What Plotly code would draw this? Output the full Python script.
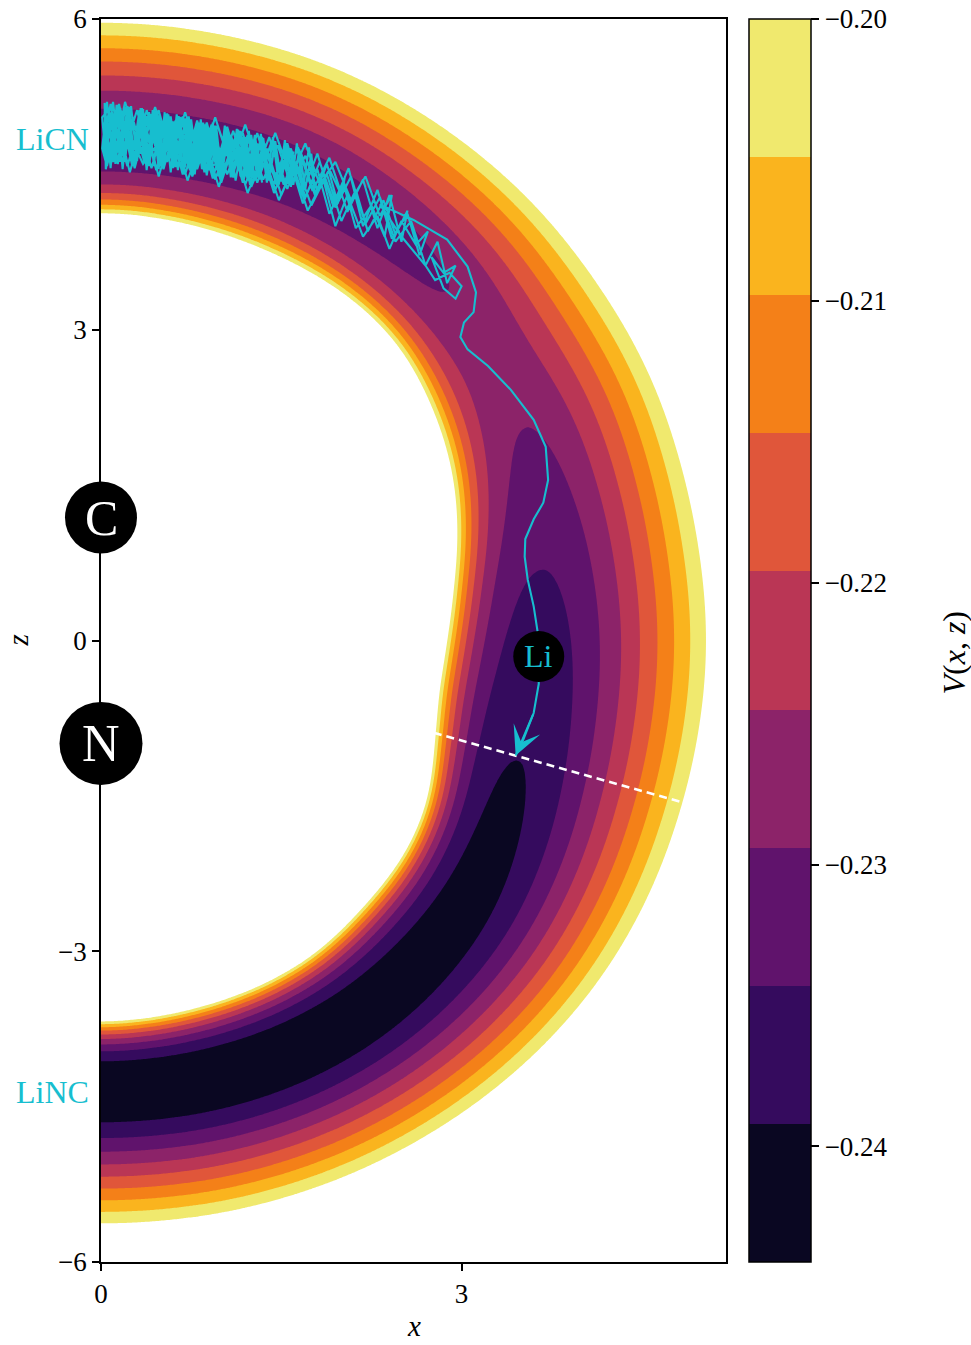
import numpy as np
import plotly.graph_objects as go

# ------------------------------------------------------------------
# Values
# ------------------------------------------------------------------
V_MIN = -0.2441          # lowest filled level (bottom of colour bar)
V_MAX = -0.20            # highest filled level (top of colour bar)
N_BANDS = 9
BAND_COLORS = ["#0a0722", "#350b5e", "#60136c", "#8c2369", "#ba3655",
               "#e0563a", "#f48018", "#fab41e", "#f0e96e"]
CB_TICKS = [-0.24, -0.23, -0.22, -0.21, -0.20]
CB_TICKTEXT = ["\u22120.24", "\u22120.23", "\u22120.22", "\u22120.21", "\u22120.20"]

X_TICKS = [0, 3]
X_TICKTEXT = ["0", "3"]
Z_TICKS = [-6, -3, 0, 3, 6]
Z_TICKTEXT = ["\u22126", "\u22123", "0", "3", "6"]

# potential landscape in Jacobi polar coordinates (angle from +z axis, degrees)
GAMMA_DEG = [0, 10, 20, 30, 40, 50, 60, 70, 80, 90,
             100, 110, 120, 130, 140, 150, 160, 170, 180]
R_OUTER = [5.975, 5.94, 5.86, 5.71, 5.55, 5.37, 5.24, 5.11, 5.04, 5.03,
           5.04, 5.09, 5.19, 5.30, 5.40, 5.49, 5.57, 5.62, 5.63]
R_INNER = [4.14, 4.09, 4.01, 3.93, 3.80, 3.57, 3.36, 3.15, 2.97, 2.87,
           2.84, 2.94, 3.13, 3.27, 3.37, 3.52, 3.60, 3.65, 3.69]
R_VALLEY = [4.84, 4.83, 4.80, 4.63, 4.46, 4.26, 4.08, 3.87, 3.71, 3.63,
            3.61, 3.66, 3.79, 3.96, 4.10, 4.22, 4.30, 4.34, 4.35]
V_VALLEY = [2.2, 2.25, 2.4, 2.65, 2.95, 3.45, 3.0, 2.5, 1.95, 1.55,
            1.25, 0.95, 0.7, 0.5, 0.35, 0.2, 0.1, 0.03, 0.0]   # in band units above V_MIN
OUTER_SOFT = [0.40, 0.42, 0.45, 0.50, 0.58, 0.64, 0.62, 0.57, 0.52, 0.50,
              0.48, 0.46, 0.43, 0.41, 0.39, 0.36, 0.34, 0.32, 0.30]
INNER_STIFF = [2.0, 2.1, 2.2, 2.3, 2.4, 2.6, 2.7, 2.8, 2.9, 3.0,
               2.9, 2.8, 2.7, 2.6, 2.4, 2.3, 2.2, 2.1, 2.0]

ATOM_NAMES = ["C", "N", "Li"]
ATOM_X = [0.0, 0.0, 3.642]
ATOM_Z = [1.187, -0.994, -0.154]
ATOM_SIZE = [72, 83, 51]
ATOM_TEXT_SIZE = [50, 52, 32]

DIVIDER_X = [2.769, 4.853]
DIVIDER_Z = [-0.891, -1.567]

LABEL_NAMES = ["LiCN", "LiNC"]
LABEL_Z = [4.846, -4.36]

TRAJ = [
    # pass 1
    (0.30, 4.80), (0.42, 5.08), (0.55, 4.62), (0.66, 5.05), (0.80, 4.55), (0.92, 4.98),
    (1.05, 4.50), (1.18, 4.90), (1.30, 4.42), (1.42, 4.82), (1.55, 4.36), (1.66, 4.72),
    (1.78, 4.30), (1.88, 4.60), (1.97, 4.22), (2.03, 4.48), (2.00, 4.30), (1.90, 4.55),
    (1.80, 4.35), (1.70, 4.68), (1.58, 4.40), (1.47, 4.78), (1.35, 4.45), (1.22, 4.88),
    (1.10, 4.52), (0.97, 4.97), (0.85, 4.55), (0.72, 5.05), (0.60, 4.60), (0.48, 5.12),
    (0.36, 4.62), (0.24, 5.15), (0.12, 4.66), (0.03, 5.10), (0.05, 4.60),
    # pass 2
    (0.15, 5.18), (0.26, 4.58), (0.38, 5.12), (0.50, 4.64), (0.62, 5.02), (0.75, 4.52),
    (0.88, 5.00), (1.00, 4.48), (1.14, 4.93), (1.27, 4.46), (1.40, 4.86), (1.52, 4.40),
    (1.64, 4.76), (1.76, 4.34), (1.90, 4.66), (2.05, 4.14), (2.18, 4.45), (2.30, 3.98),
    (2.40, 4.30), (2.50, 3.85), (2.55, 4.15), (2.45, 3.92), (2.35, 4.25), (2.22, 3.95),
    (2.12, 4.35), (2.00, 4.05), (1.88, 4.50), (1.75, 4.20), (1.62, 4.62), (1.50, 4.30),
    (1.38, 4.75), (1.25, 4.38), (1.12, 4.85), (1.00, 4.42), (0.88, 4.95), (0.76, 4.48),
    (0.64, 5.06), (0.52, 4.55), (0.40, 5.10), (0.28, 4.56), (0.16, 5.14), (0.05, 4.58),
    (0.02, 5.00),
    # pass 3
    (0.10, 4.62), (0.20, 5.20), (0.33, 4.70), (0.45, 5.15), (0.58, 4.66), (0.70, 5.10),
    (0.83, 4.62), (0.95, 5.05), (1.08, 4.58), (1.20, 4.98), (1.33, 4.52), (1.45, 4.90),
    (1.58, 4.48), (1.70, 4.80), (1.82, 4.40), (1.95, 4.62), (2.08, 4.25), (2.20, 4.48),
    (2.32, 4.10), (2.42, 4.30), (2.36, 3.90), (2.25, 4.20), (2.12, 3.98), (2.02, 4.40),
    (1.90, 4.12), (1.80, 4.55), (1.68, 4.22), (1.56, 4.68), (1.44, 4.32), (1.32, 4.78),
    (1.20, 4.40), (1.08, 4.88), (0.95, 4.45), (0.82, 4.95), (0.70, 4.50), (0.58, 5.02),
    (0.46, 4.54), (0.34, 5.08), (0.22, 4.58), (0.10, 5.05), (0.03, 4.70),
    # pass 4 (core)
    (0.02, 4.85), (0.08, 5.18), (0.14, 4.60), (0.20, 5.15), (0.26, 4.64), (0.32, 5.12),
    (0.38, 4.60), (0.44, 5.10), (0.50, 4.62), (0.56, 5.08), (0.62, 4.57), (0.68, 5.06),
    (0.74, 4.55), (0.80, 5.02), (0.86, 4.52), (0.92, 4.98), (0.98, 4.50), (1.04, 4.95),
    (1.10, 4.47), (1.16, 4.92), (1.22, 4.44), (1.28, 4.88), (1.34, 4.42), (1.30, 4.80),
    (1.24, 4.40), (1.18, 4.86), (1.12, 4.44), (1.06, 4.90), (1.00, 4.46), (0.94, 4.95),
    (0.88, 4.49), (0.82, 5.00), (0.76, 4.52), (0.70, 5.04), (0.64, 4.54), (0.58, 5.06),
    (0.52, 4.58), (0.46, 5.10), (0.40, 4.58), (0.34, 5.14), (0.28, 4.60), (0.22, 5.16),
    (0.16, 4.62), (0.10, 5.20), (0.04, 4.64), (0.01, 5.05),
    # pass 5
    (0.08, 5.15), (0.18, 4.68), (0.30, 5.12), (0.42, 4.56), (0.55, 5.08), (0.68, 4.50),
    (0.80, 5.02), (0.93, 4.46), (1.05, 4.96), (1.18, 4.42), (1.30, 4.90), (1.43, 4.38),
    (1.55, 4.80), (1.67, 4.30), (1.80, 4.70), (1.93, 4.20), (2.06, 4.56), (2.18, 4.00),
    (2.30, 4.35), (2.42, 3.88), (2.55, 4.12), (2.65, 3.72), (2.72, 3.95), (2.62, 3.82),
    (2.50, 4.05), (2.40, 3.78), (2.30, 4.10), (2.18, 3.90), (2.05, 4.30), (1.95, 4.00),
    (1.85, 4.45), (1.72, 4.15), (1.60, 4.58), (1.48, 4.25), (1.35, 4.70), (1.22, 4.32),
    (1.10, 4.80), (0.98, 4.38), (0.85, 4.88), (0.72, 4.44), (0.60, 4.96), (0.48, 4.48),
    (0.36, 5.02), (0.24, 4.52), (0.12, 5.08), (0.04, 4.55),
    # pass 6 (dense core, out and back)
    (0.03, 5.19), (0.08, 4.56), (0.13, 5.17), (0.18, 4.55), (0.23, 5.15), (0.28, 4.57),
    (0.33, 5.14), (0.38, 4.54), (0.43, 5.12), (0.48, 4.55), (0.53, 5.10), (0.58, 4.52),
    (0.63, 5.08), (0.68, 4.53), (0.73, 5.06), (0.78, 4.50), (0.83, 5.03), (0.88, 4.51),
    (0.93, 5.00), (0.98, 4.48), (1.03, 4.97), (1.08, 4.47), (1.13, 4.94), (1.18, 4.45),
    (1.23, 4.92), (1.28, 4.44), (1.33, 4.89), (1.38, 4.42), (1.43, 4.86), (1.48, 4.40),
    (1.53, 4.83), (1.58, 4.38), (1.63, 4.80), (1.68, 4.35), (1.73, 4.76), (1.78, 4.32),
    (1.75, 4.70), (1.70, 4.36), (1.65, 4.74), (1.60, 4.40), (1.55, 4.78), (1.50, 4.43),
    (1.45, 4.82), (1.40, 4.45), (1.35, 4.85), (1.30, 4.47), (1.25, 4.88), (1.20, 4.49),
    (1.15, 4.91), (1.10, 4.50), (1.05, 4.94), (1.00, 4.52), (0.95, 4.97), (0.90, 4.54),
    (0.85, 5.00), (0.80, 4.56), (0.75, 5.03), (0.70, 4.57), (0.65, 5.06), (0.60, 4.59),
    (0.55, 5.09), (0.50, 4.60), (0.45, 5.11), (0.40, 4.62), (0.35, 5.13), (0.30, 4.63),
    (0.25, 5.16), (0.20, 4.64), (0.15, 5.18), (0.10, 4.66), (0.05, 5.20), (0.01, 4.75),
    # pass 7 (dense core)
    (0.04, 4.62), (0.08, 5.10), (0.12, 4.60), (0.16, 5.12), (0.20, 4.62), (0.24, 5.08),
    (0.28, 4.60), (0.32, 5.10), (0.36, 4.61), (0.40, 5.06), (0.44, 4.58), (0.48, 5.07),
    (0.52, 4.59), (0.56, 5.03), (0.60, 4.56), (0.64, 5.04), (0.68, 4.57), (0.72, 5.00),
    (0.76, 4.54), (0.80, 5.00), (0.84, 4.55), (0.88, 4.96), (0.92, 4.52), (0.96, 4.95),
    (1.00, 4.52), (1.04, 4.91), (1.08, 4.50), (1.12, 4.89), (1.16, 4.48), (1.20, 4.86),
    (1.24, 4.47), (1.28, 4.84), (1.32, 4.45), (1.36, 4.80), (1.40, 4.44), (1.44, 4.78),
    (1.48, 4.42), (1.52, 4.74), (1.56, 4.40), (1.60, 4.72), (1.45, 4.50), (1.20, 4.85),
    (0.90, 4.55), (0.60, 5.00), (0.35, 4.60),
    # pass 8 and exit
    (0.14, 5.12), (0.26, 4.62), (0.38, 5.06), (0.50, 4.58), (0.62, 5.00), (0.74, 4.54),
    (0.86, 4.98), (0.98, 4.50), (1.10, 4.92), (1.22, 4.46), (1.34, 4.86), (1.46, 4.40),
    (1.58, 4.75), (1.70, 4.28), (1.82, 4.62), (1.95, 4.18), (2.08, 4.48), (2.20, 4.02),
    (2.32, 4.28), (2.45, 3.85), (2.58, 4.05), (2.70, 3.62), (2.80, 3.85), (2.88, 3.45),
    (2.95, 3.62), (2.85, 3.55), (2.75, 3.70), (2.85, 3.40), (2.95, 3.30), (3.00, 3.42),
    (2.90, 3.55), (2.78, 3.48), (2.70, 3.62), (2.50, 3.90), (2.32, 4.21), (2.60, 4.06),
    (2.88, 3.87), (3.05, 3.61), (3.12, 3.36), (3.10, 3.17), (3.02, 3.07), (2.99, 2.93),
    (3.05, 2.81), (3.22, 2.65), (3.41, 2.42), (3.60, 2.13), (3.70, 1.87), (3.72, 1.55),
    (3.68, 1.33), (3.60, 1.17), (3.53, 0.98), (3.525, 0.81), (3.55, 0.59), (3.60, 0.33),
    (3.633, 0.08), (3.642, -0.15), (3.642, -0.42), (3.60, -0.70), (3.517, -0.946),
    (3.45, -1.11),
]
TRAJ_X = [p[0] for p in TRAJ]
TRAJ_Z = [p[1] for p in TRAJ]

# ------------------------------------------------------------------
# Styling
# ------------------------------------------------------------------
FONT = "Liberation Serif"
CYAN = "#17becf"

# ------------------------------------------------------------------
# Build the potential surface from the read profiles
# ------------------------------------------------------------------
G_FINE = np.arange(0, 180.25, 0.5)


def profile(vals, sigma=4.0):
    f = np.interp(G_FINE, GAMMA_DEG, vals)
    n = len(f)
    pad = int(4 * sigma / 0.5)
    ext = np.concatenate([f[pad:0:-1], f, f[-2:-pad - 2:-1]])
    k = np.exp(-0.5 * (np.arange(-pad, pad + 1) * 0.5 / sigma) ** 2)
    k /= k.sum()
    sm = np.convolve(ext, k, mode="same")
    return sm[pad:pad + n]


xg = np.linspace(0, 5.2, 348)
zg = np.linspace(-6, 6, 801)
X, Z = np.meshgrid(xg, zg)
R = np.hypot(X, Z)
G = np.degrees(np.arctan2(X, Z))


def at(vals):
    return np.interp(G, G_FINE, profile(vals))


Rout, Rin, R0 = at(R_OUTER), at(R_INNER), at(R_VALLEY)
Vw, om, aa = at(V_VALLEY), at(OUTER_SOFT), at(INNER_STIFF)

t_out = np.clip((R - R0) / (Rout - R0), 0, None)
h_out = (np.sqrt(t_out ** 2 + om ** 2) - om) / (np.sqrt(1 + om ** 2) - om)
t_in = np.minimum(np.clip((R0 - R) / (R0 - Rin), 0, None), 3.0)
h_in = (np.exp(aa * t_in) - 1 - aa * t_in) / (np.exp(aa) - 1 - aa)
h = np.where(R >= R0, h_out, h_in)
dV = (V_MAX - V_MIN) / N_BANDS
V = V_MIN + dV * (Vw + (N_BANDS - Vw) * h)
V = np.round(np.minimum(V, V_MAX + 0.01), 5)

# colour scales
cs_contour = []
for k in range(N_BANDS + 1):
    c = BAND_COLORS[k] if k < N_BANDS else "#ffffff"
    lo = max(0.0, (k - 0.5) / N_BANDS)
    hi = min(1.0, (k + 0.5) / N_BANDS)
    cs_contour += [[lo, c], [hi, c]]

cs_bar = []
for k, c in enumerate(BAND_COLORS):
    cs_bar += [[k / N_BANDS, c], [(k + 1) / N_BANDS, c]]

fig = go.Figure()

fig.add_trace(go.Contour(
    x=xg, y=zg, z=V,
    autocontour=False,
    contours=dict(start=V_MIN + dV, end=V_MAX, size=dV,
                  coloring="fill", showlines=False),
    colorscale=cs_contour, showscale=False,
    line=dict(width=0), hoverinfo="skip",
))

fig.add_trace(go.Scatter(
    x=DIVIDER_X, y=DIVIDER_Z, mode="lines",
    line=dict(color="white", width=2.5, dash="8px,5px"),
    hoverinfo="skip", showlegend=False,
))

fig.add_trace(go.Scatter(
    x=TRAJ_X, y=TRAJ_Z, mode="lines",
    line=dict(color=CYAN, width=2.1),
    hoverinfo="skip", showlegend=False,
))

for ax_, az_, sz in zip(ATOM_X, ATOM_Z, ATOM_SIZE):
    fig.add_trace(go.Scatter(
        x=[ax_], y=[az_], mode="markers",
        marker=dict(size=sz, color="#000000", opacity=1, line=dict(width=0, color="#000000")),
        opacity=1, cliponaxis=False, hoverinfo="skip", showlegend=False,
    ))

# colour bar carrier
fig.add_trace(go.Scatter(
    x=[None], y=[None], mode="markers",
    marker=dict(color=[V_MIN], colorscale=cs_bar, cmin=V_MIN, cmax=V_MAX,
                showscale=True,
                colorbar=dict(
                    x=(749 - 101) / 625, xanchor="left", xpad=0,
                    y=0.5, yanchor="middle", ypad=0,
                    len=1, lenmode="fraction",
                    thickness=62, thicknessmode="pixels",
                    outlinewidth=1.5, outlinecolor="black",
                    ticks="outside", ticklen=8, tickwidth=1.5, tickcolor="black",
                    tickvals=CB_TICKS, ticktext=CB_TICKTEXT,
                    tickfont=dict(family=FONT, size=27, color="black"),
                )),
    hoverinfo="skip", showlegend=False,
))

annotations = []
for name, ax_, az_, fs in zip(ATOM_NAMES, ATOM_X, ATOM_Z, ATOM_TEXT_SIZE):
    col = CYAN if name == "Li" else "white"
    annotations.append(dict(x=ax_, y=az_, xref="x", yref="y", text=name,
                            showarrow=False, font=dict(family=FONT, size=fs, color=col),
                            xanchor="center", yanchor="middle"))
for name, lz in zip(LABEL_NAMES, LABEL_Z):
    annotations.append(dict(x=0, y=lz, xref="x", yref="y", text=name,
                            showarrow=False, font=dict(family=FONT, size=32, color=CYAN),
                            xanchor="right", yanchor="middle", xshift=-10))
# arrow head at the end of the trajectory
annotations.append(dict(x=TRAJ_X[-1], y=TRAJ_Z[-1], ax=TRAJ_X[-3], ay=TRAJ_Z[-3],
                        xref="x", yref="y", axref="x", ayref="y", text="",
                        showarrow=True, arrowhead=3, arrowsize=2.4, arrowwidth=2,
                        arrowcolor=CYAN, standoff=0))
# axis titles
annotations.append(dict(x=0.5, y=0, xref="paper", yref="paper", text="<i>x</i>",
                        showarrow=False, font=dict(family=FONT, size=29, color="black"),
                        xanchor="center", yanchor="middle", yshift=-64))
annotations.append(dict(x=0, y=0.5, xref="paper", yref="paper", text="<i>z</i>",
                        showarrow=False, font=dict(family=FONT, size=29, color="black"),
                        xanchor="center", yanchor="middle", xshift=-84, textangle=-90))
annotations.append(dict(x=(953 - 101) / 625, y=0.5, xref="paper", yref="paper",
                        text="<i>V</i>(<i>x</i>, <i>z</i>)",
                        showarrow=False, font=dict(family=FONT, size=32, color="black"),
                        xanchor="center", yanchor="middle", yshift=-12, textangle=-90))

axis_common = dict(showline=True, linecolor="black", linewidth=1.6, mirror=True,
                   ticks="outside", ticklen=7, tickwidth=1.5, tickcolor="black",
                   showgrid=False, zeroline=False,
                   tickfont=dict(family=FONT, size=27, color="black"))

fig.update_layout(
    width=971, height=1345, autosize=False,
    margin=dict(l=101, r=245, t=19, b=83, pad=0, autoexpand=False),
    paper_bgcolor="white", plot_bgcolor="white",
    font=dict(family=FONT, size=27, color="black"),
    showlegend=False,
    xaxis=dict(range=[0, 5.2], tickvals=X_TICKS, ticktext=X_TICKTEXT, **axis_common),
    yaxis=dict(range=[-6, 6], tickvals=Z_TICKS, ticktext=Z_TICKTEXT, **axis_common),
    annotations=annotations,
)

fig.write_html("out.html")
